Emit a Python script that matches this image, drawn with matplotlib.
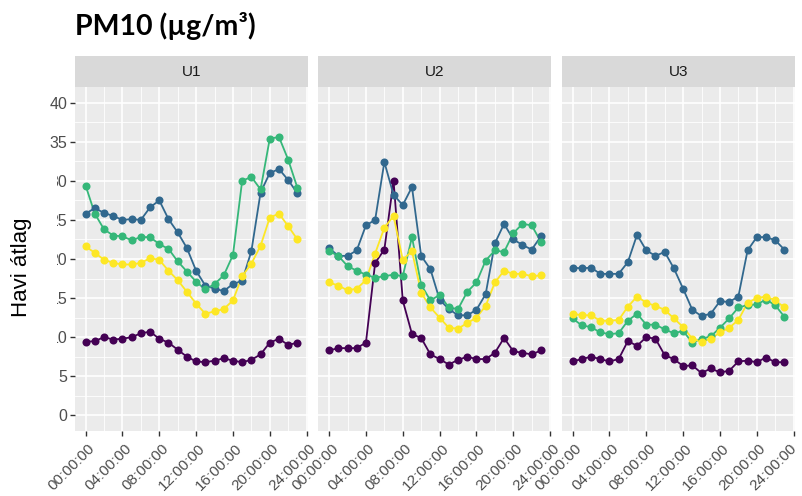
import matplotlib
matplotlib.use("Agg")
import matplotlib.pyplot as plt
import matplotlib.transforms as mtransforms
from matplotlib.patches import Rectangle

plt.rcParams['font.family'] = ['Liberation Sans', 'DejaVu Sans']

# hourly means, 00:00 .. 23:00
hours = list(range(24))
panels = ["U1", "U2", "U3"]
colors = ["#440154", "#31688E", "#35B779", "#FDE725"]  # viridis, 4 groups

u1_purple = [9.4, 9.5, 10.0, 9.7, 9.8, 10.0, 10.5, 10.7, 9.8, 9.3, 8.4, 7.5,
             6.9, 6.8, 7.0, 7.3, 7.0, 6.8, 7.1, 7.8, 9.3, 9.8, 9.0, 9.3]
u1_blue = [25.8, 26.5, 25.9, 25.5, 25.0, 25.1, 25.0, 26.6, 27.5, 25.1, 23.4, 21.4,
           18.5, 16.6, 16.2, 15.9, 16.8, 17.2, 21.0, 28.5, 31.0, 31.5, 30.1, 28.4]
u1_green = [29.4, 25.8, 23.8, 23.0, 22.9, 22.4, 22.8, 22.8, 21.9, 21.3, 19.7, 18.4,
            17.1, 16.1, 16.8, 17.9, 20.5, 30.0, 30.5, 28.9, 35.4, 35.6, 32.7, 29.1]
u1_yellow = [21.6, 20.8, 19.9, 19.5, 19.3, 19.3, 19.5, 20.1, 19.9, 18.5, 17.3, 15.8,
             14.3, 13.0, 13.3, 13.6, 14.7, 17.8, 19.4, 21.7, 25.3, 25.8, 24.2, 22.5]

u2_purple = [8.3, 8.6, 8.6, 8.6, 9.3, 19.5, 21.2, 30.0, 14.7, 10.4, 9.9, 7.8,
             7.2, 6.5, 7.1, 7.5, 7.2, 7.2, 8.0, 9.9, 8.2, 8.0, 7.8, 8.3]
u2_blue = [21.4, 20.4, 20.4, 21.1, 24.3, 25.0, 32.4, 28.2, 26.9, 29.2, 20.4, 18.7,
           14.8, 13.6, 12.8, 12.8, 13.5, 15.5, 22.0, 24.5, 22.5, 21.8, 21.2, 22.9]
u2_green = [21.0, 20.4, 19.1, 18.5, 18.0, 17.6, 17.8, 18.0, 17.8, 22.8, 16.7, 14.7,
            15.4, 13.8, 13.6, 15.8, 17.0, 19.8, 21.1, 20.9, 23.3, 24.5, 24.3, 22.2]
u2_yellow = [17.0, 16.6, 16.0, 16.2, 17.3, 20.7, 24.0, 25.5, 19.9, 21.0, 15.7, 13.8,
             12.5, 11.2, 11.1, 11.8, 12.5, 14.0, 17.0, 18.5, 18.1, 18.1, 17.8, 17.9]

u3_purple = [6.9, 7.2, 7.5, 7.2, 6.9, 7.2, 9.5, 8.9, 10.0, 9.8, 7.7, 7.2,
             6.3, 6.4, 5.4, 6.0, 5.5, 5.7, 6.9, 7.0, 6.8, 7.4, 6.8, 6.8]
u3_blue = [18.9, 18.8, 18.9, 18.1, 18.1, 18.1, 19.6, 23.1, 21.1, 20.4, 20.9, 18.8,
           16.2, 13.5, 12.7, 13.0, 14.6, 14.5, 15.2, 21.1, 22.8, 22.8, 22.4, 21.2]
u3_green = [12.4, 11.5, 11.3, 10.6, 10.4, 10.5, 12.1, 13.0, 11.6, 11.6, 11.0, 10.5,
            10.8, 9.3, 9.8, 10.1, 11.2, 12.4, 13.8, 14.1, 14.2, 14.8, 14.1, 12.6]
u3_yellow = [13.0, 12.8, 12.8, 12.1, 12.1, 12.2, 13.9, 15.2, 14.4, 14.0, 13.5, 12.4,
             11.3, 9.8, 9.4, 9.8, 10.6, 11.2, 12.2, 14.4, 15.0, 15.2, 14.7, 13.8]

series = {
    "U1": [u1_purple, u1_blue, u1_green, u1_yellow],
    "U2": [u2_purple, u2_blue, u2_green, u2_yellow],
    "U3": [u3_purple, u3_blue, u3_green, u3_yellow],
}

xtick_pos = [0, 4, 8, 12, 16, 20, 24]
xtick_labels = ["%02d:00:00" % h for h in xtick_pos]
ytick_pos = [0, 5, 10, 15, 20, 25, 30, 35, 40]

W, H = 803, 496
fig = plt.figure(figsize=(W / 100, H / 100), dpi=100)

panel_left = [75, 318.5, 562]
panel_w = 233
panel_top, panel_bot = 87, 431
strip_top = 56

for i, name in enumerate(panels):
    x0 = panel_left[i] / W
    ax = fig.add_axes([x0, (H - panel_bot) / H, panel_w / W, (panel_bot - panel_top) / H])
    ax.set_facecolor("#EBEBEB")
    for s in ax.spines.values():
        s.set_visible(False)
    ax.set_xlim(-1.15, 24.15)
    ax.set_ylim(-2, 42)
    ax.set_xticks(xtick_pos)
    ax.set_xticks([2, 6, 10, 14, 18, 22], minor=True)
    ax.set_yticks(ytick_pos)
    ax.set_yticks([2.5, 7.5, 12.5, 17.5, 22.5, 27.5, 32.5, 37.5], minor=True)
    ax.grid(which="major", color="white", lw=1.2)
    ax.grid(which="minor", color="white", lw=0.6)
    ax.set_axisbelow(True)
    ax.tick_params(which="minor", length=0)
    ax.tick_params(which="major", length=3.5, width=1.0, color="#333333",
                   labelcolor="#4D4D4D")
    ax.tick_params(axis="y", labelsize=11.5, pad=2)
    ax.tick_params(axis="x", labelsize=11, pad=4)
    ax.set_xticklabels(xtick_labels, rotation=45, ha="right", va="top",
                       rotation_mode="anchor")
    labs = ax.get_xticklabels()
    for k, lab in enumerate(labs):
        dx = 2
        if i == len(panels) - 1 and k == len(labs) - 1:
            dx = -4  # keep the last label inside the image
        off = mtransforms.ScaledTranslation(dx / 100, 0, fig.dpi_scale_trans)
        lab.set_transform(lab.get_transform() + off)
    if i > 0:
        ax.tick_params(axis="y", length=0, labelleft=False)

    # ggplot order: all lines, then all points
    for vals, c in zip(series[name], colors):
        ax.plot(hours, vals, color=c, lw=1.3, zorder=2)
    for vals, c in zip(series[name], colors):
        ax.plot(hours, vals, "o", color=c, ms=5.8, mew=0, zorder=3)

    sax = fig.add_axes([x0, (H - panel_top) / H, panel_w / W, (panel_top - strip_top) / H])
    sax.set_facecolor("#D9D9D9")
    sax.set_xticks([])
    sax.set_yticks([])
    for s in sax.spines.values():
        s.set_visible(False)
    sax.text(0.5, 0.5, name, ha="center", va="center", fontsize=11,
             color="#1A1A1A", transform=sax.transAxes)

# white block behind the y label, as in the source image
fig.add_artist(Rectangle((0, (H - 348) / H), 57 / W, 180 / H,
                         transform=fig.transFigure, facecolor="white",
                         edgecolor="none", zorder=5))
fig.text(22 / W, (H - 267) / H, "Havi átlag", rotation=90, ha="center",
         va="center", fontsize=16, color="black", zorder=6)

fig.text(75 / W, (H - 35) / H, "PM10 (µg/m³)", family=["Lato", "DejaVu Sans"],
         fontweight="bold", fontsize=20.5, ha="left", va="baseline")

fig.savefig("out.png", dpi=100, facecolor="white")
